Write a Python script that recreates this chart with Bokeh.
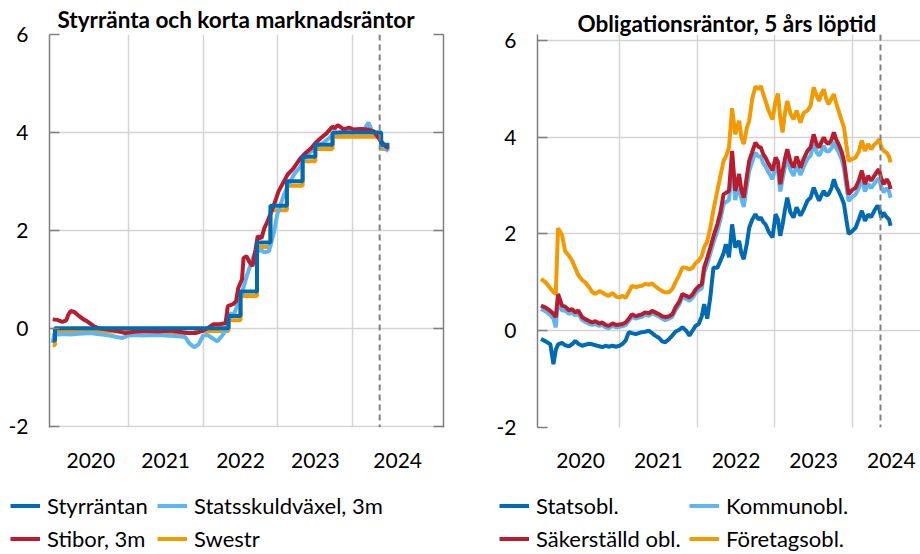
from bokeh.plotting import figure
from bokeh.models import Range1d, FixedTicker, LinearAxis, Span, Legend, LegendItem
from bokeh.layouts import row, column
from bokeh.embed import file_html
from bokeh.resources import INLINE

FONT = "Lato"
C_DBLUE = "#006bb3"
C_LBLUE = "#5db6f0"
C_RED = "#b81c2e"
C_ORANGE = "#f29a00"

# ---------------- Left panel data ----------------
styr_t = [2019.99, 2020.02, 2022.34, 2022.50, 2022.72, 2022.90, 2023.12, 2023.33, 2023.50, 2023.73, 2024.38, 2024.49]
styr_v = [-0.25, 0.00, 0.25, 0.75, 1.75, 2.50, 3.00, 3.50, 3.75, 4.00, 3.75, 3.75]

swestr_t = [2019.99, 2020.02, 2020.50, 2021.00, 2021.50, 2021.90, 2022.34, 2022.50, 2022.72, 2022.90, 2023.12, 2023.33, 2023.50, 2023.73, 2024.38, 2024.49]
swestr_v = [-0.35, -0.08, -0.07, -0.07, -0.10, -0.06, 0.16, 0.66, 1.66, 2.41, 2.91, 3.41, 3.66, 3.91, 3.66, 3.66]

stibor_t = [2019.99, 2020.05, 2020.12, 2020.17, 2020.20, 2020.23, 2020.28, 2020.34, 2020.40, 2020.45,
            2020.54, 2020.60, 2020.70, 2020.85, 2020.96, 2021.10, 2021.25, 2021.40, 2021.55, 2021.70,
            2021.80, 2021.90, 2022.00, 2022.08, 2022.14, 2022.22, 2022.30, 2022.33, 2022.40, 2022.44,
            2022.47, 2022.52, 2022.54, 2022.58, 2022.62, 2022.66, 2022.70, 2022.73, 2022.78, 2022.82,
            2022.86, 2022.93, 2022.97, 2023.01, 2023.08, 2023.13, 2023.20, 2023.30, 2023.37, 2023.44,
            2023.50, 2023.57, 2023.65, 2023.73, 2023.76, 2023.80, 2023.88, 2023.95, 2024.01, 2024.10,
            2024.20, 2024.28, 2024.33, 2024.40, 2024.44, 2024.48]
stibor_v = [0.18, 0.17, 0.13, 0.16, 0.28, 0.35, 0.33, 0.25, 0.18, 0.14,
            0.04, 0.00, -0.02, -0.06, -0.10, -0.07, -0.06, -0.07, -0.05, -0.08,
            -0.10, -0.10, -0.05, 0.02, 0.08, 0.08, 0.10, 0.45, 0.49, 0.55,
            0.82, 1.00, 1.43, 1.47, 1.35, 1.27, 1.60, 1.88, 1.84, 2.05,
            2.18, 2.45, 2.62, 2.80, 3.00, 3.14, 3.25, 3.47, 3.58, 3.67,
            3.78, 3.88, 3.98, 4.12, 4.08, 4.15, 4.06, 4.10, 4.06, 4.07,
            4.06, 4.02, 3.92, 3.78, 3.72, 3.67]

ssvx_t = [2019.99, 2020.01, 2020.08, 2020.15, 2020.22, 2020.30, 2020.40, 2020.50, 2020.58, 2020.65,
          2020.75, 2020.85, 2020.92, 2021.00, 2021.10, 2021.20, 2021.35, 2021.50, 2021.62, 2021.70,
          2021.76, 2021.81, 2021.88, 2021.94, 2022.00, 2022.06, 2022.12, 2022.19, 2022.26, 2022.32,
          2022.36, 2022.41, 2022.50, 2022.59, 2022.68, 2022.76, 2022.82, 2022.88, 2022.95, 2022.99,
          2023.08, 2023.15, 2023.22, 2023.30, 2023.38, 2023.45, 2023.52, 2023.60, 2023.68, 2023.76,
          2023.84, 2023.92, 2024.00, 2024.08, 2024.16, 2024.21, 2024.25, 2024.30, 2024.36, 2024.42,
          2024.48]
ssvx_v = [-0.30, -0.12, -0.13, -0.12, -0.13, -0.12, -0.11, -0.10, -0.12, -0.13,
          -0.15, -0.18, -0.20, -0.15, -0.14, -0.15, -0.14, -0.15, -0.16, -0.17,
          -0.18, -0.30, -0.39, -0.33, -0.15, -0.14, -0.20, -0.27, -0.14, 0.00,
          0.30, 0.28, 0.62, 1.10, 1.50, 1.60, 1.55, 1.57, 1.98, 2.32,
          2.73, 2.95, 3.15, 3.30, 3.52, 3.62, 3.72, 3.78, 3.88, 3.98,
          4.00, 4.02, 4.00, 4.05, 4.08, 4.20, 4.05, 4.00, 3.85, 3.68,
          3.62]

# ---------------- Right panel data ----------------
obl_t = [2019.99, 2020.05, 2020.11, 2020.15, 2020.18, 2020.21, 2020.26, 2020.30, 2020.35, 2020.39,
         2020.43, 2020.47, 2020.52, 2020.56, 2020.61, 2020.65, 2020.69, 2020.74, 2020.78, 2020.82,
         2020.86, 2020.91, 2020.96, 2021.00, 2021.04, 2021.08, 2021.12, 2021.16, 2021.21, 2021.25,
         2021.29, 2021.33, 2021.38, 2021.42, 2021.46, 2021.51, 2021.55, 2021.59, 2021.64, 2021.68,
         2021.72, 2021.77, 2021.81, 2021.86, 2021.90, 2021.94, 2021.98, 2022.02, 2022.06, 2022.09,
         2022.13, 2022.17, 2022.21, 2022.26, 2022.30, 2022.34, 2022.37, 2022.41, 2022.45, 2022.49,
         2022.54, 2022.57, 2022.60, 2022.64, 2022.67, 2022.71, 2022.75, 2022.79, 2022.82, 2022.85,
         2022.88, 2022.92, 2022.97, 2023.01, 2023.04, 2023.07, 2023.10, 2023.13, 2023.16, 2023.20,
         2023.24, 2023.28, 2023.33, 2023.37, 2023.42, 2023.46, 2023.50, 2023.54, 2023.57, 2023.60,
         2023.63, 2023.66, 2023.69, 2023.73, 2023.76, 2023.79, 2023.82, 2023.86, 2023.89, 2023.92,
         2023.95, 2023.99, 2024.04, 2024.08, 2024.12, 2024.16, 2024.20, 2024.24, 2024.28, 2024.32,
         2024.34, 2024.37, 2024.40, 2024.44, 2024.47, 2024.49]

foretag_v = [1.07, 1.00, 0.88, 0.80, 0.76, 2.12, 1.98, 1.65, 1.55, 1.45,
             1.30, 1.15, 1.05, 1.00, 0.90, 0.80, 0.76, 0.82, 0.79, 0.75,
             0.72, 0.78, 0.70, 0.69, 0.72, 0.68, 0.80, 0.93, 0.90, 0.92,
             0.93, 0.97, 0.95, 0.98, 0.92, 0.86, 0.82, 0.79, 0.80, 0.86,
             1.00, 1.15, 1.31, 1.30, 1.27, 1.30, 1.40, 1.45, 1.55, 1.72,
             1.85, 2.13, 2.50, 2.89, 3.20, 3.51, 3.60, 3.79, 4.60, 4.06,
             4.34, 4.00, 3.86, 4.20, 4.34, 4.80, 5.05, 5.00, 5.06, 4.90,
             4.75, 4.55, 4.37, 4.75, 4.90, 4.40, 4.10, 4.50, 4.75, 4.50,
             4.37, 4.55, 4.30, 4.50, 4.55, 4.65, 5.03, 4.85, 4.75, 4.90,
             4.99, 4.80, 4.68, 4.80, 4.89, 4.70, 4.55, 4.35, 4.20, 3.85,
             3.51, 3.55, 3.58, 3.70, 3.93, 3.72, 3.86, 3.75, 3.85, 3.90,
             3.96, 3.80, 3.72, 3.68, 3.60, 3.48]

saker_v = [0.52, 0.48, 0.41, 0.35, 0.28, 0.76, 0.52, 0.50, 0.42, 0.45,
           0.38, 0.42, 0.28, 0.24, 0.20, 0.17, 0.20, 0.15, 0.17, 0.12,
           0.10, 0.15, 0.12, 0.13, 0.14, 0.17, 0.25, 0.34, 0.30, 0.32,
           0.34, 0.38, 0.36, 0.41, 0.38, 0.34, 0.30, 0.28, 0.30, 0.34,
           0.48, 0.60, 0.76, 0.72, 0.69, 0.75, 0.85, 0.92, 0.96, 1.31,
           1.50, 1.72, 1.95, 2.20, 2.45, 2.82, 2.85, 2.89, 3.72, 2.89,
           3.24, 2.90, 2.75, 3.20, 3.51, 3.70, 3.89, 3.80, 3.79, 3.65,
           3.58, 3.45, 3.31, 3.58, 3.50, 3.03, 3.30, 3.55, 3.75, 3.50,
           3.37, 3.60, 3.37, 3.55, 3.72, 3.79, 4.06, 3.85, 3.79, 3.90,
           4.00, 3.90, 3.86, 3.95, 4.10, 3.95, 3.86, 3.70, 3.51, 3.15,
           2.82, 2.90, 2.96, 3.10, 3.31, 3.03, 3.20, 3.10, 3.20, 3.30,
           3.34, 3.15, 3.03, 3.13, 3.05, 2.93]

kommun_v = [0.45, 0.40, 0.33, 0.25, 0.07, 0.62, 0.42, 0.42, 0.35, 0.38,
            0.32, 0.35, 0.22, 0.18, 0.14, 0.12, 0.14, 0.10, 0.12, 0.07,
            0.05, 0.10, 0.07, 0.08, 0.09, 0.12, 0.20, 0.29, 0.25, 0.27,
            0.29, 0.33, 0.31, 0.36, 0.33, 0.29, 0.25, 0.22, 0.25, 0.29,
            0.42, 0.54, 0.70, 0.66, 0.62, 0.68, 0.78, 0.84, 0.88, 1.20,
            1.38, 1.60, 1.82, 2.06, 2.30, 2.62, 2.66, 2.70, 3.45, 2.70,
            3.02, 2.72, 2.56, 3.00, 3.30, 3.50, 3.68, 3.60, 3.60, 3.46,
            3.40, 3.27, 3.13, 3.40, 3.32, 2.88, 3.14, 3.38, 3.56, 3.33,
            3.20, 3.42, 3.22, 3.38, 3.55, 3.62, 3.86, 3.68, 3.62, 3.72,
            3.82, 3.72, 3.70, 3.78, 3.90, 3.78, 3.70, 3.54, 3.36, 3.00,
            2.68, 2.76, 2.82, 2.95, 3.14, 2.88, 3.04, 2.95, 3.04, 3.12,
            3.15, 2.98, 2.86, 2.95, 2.88, 2.75]

stat_v = [-0.17, -0.22, -0.28, -0.69, -0.40, -0.28, -0.25, -0.30, -0.32, -0.28,
          -0.21, -0.27, -0.31, -0.29, -0.27, -0.28, -0.30, -0.32, -0.34, -0.31,
          -0.33, -0.31, -0.33, -0.31, -0.27, -0.20, -0.03, -0.05, -0.07, -0.05,
          -0.03, -0.02, 0.00, -0.05, -0.10, -0.15, -0.22, -0.24, -0.17, -0.10,
          -0.02, 0.02, 0.07, 0.00, -0.10, 0.00, 0.10, 0.14, 0.30, 0.55,
          0.25, 0.70, 1.31, 1.30, 1.45, 1.60, 1.79, 1.52, 2.20, 1.72,
          1.86, 1.60, 1.48, 1.80, 2.13, 2.30, 2.41, 2.30, 2.34, 2.25,
          2.20, 2.05, 1.93, 2.41, 2.30, 1.96, 2.20, 2.50, 2.75, 2.45,
          2.34, 2.55, 2.38, 2.50, 2.69, 2.75, 2.96, 2.80, 2.69, 2.80,
          2.89, 2.80, 2.82, 2.95, 3.13, 2.98, 2.89, 2.75, 2.62, 2.30,
          2.00, 2.05, 2.13, 2.30, 2.48, 2.27, 2.40, 2.35, 2.48, 2.58,
          2.55, 2.34, 2.44, 2.35, 2.30, 2.17]

y_ticks = [-2, 0, 2, 4, 6]
y_labels = ["-2", "0", "2", "4", "6"]
grid_years = [2021, 2022, 2023, 2024]
year_labels = ["2020", "2021", "2022", "2023", "2024"]
left_label_pos = [2020.5, 2021.5, 2022.5, 2023.5, 2024.6]
right_label_pos = [2020.5, 2021.5, 2022.5, 2023.5, 2024.5]
marker_date = 2024.36

AX_COL = "#7f7f7f"
GRID_COL = "#d4d4d4"


def style(p, title, label_pos, title_offset, title_standoff):
    p.outline_line_color = None
    p.background_fill_color = "white"
    p.title.text = title
    p.title.align = "left"
    p.title.offset = title_offset
    p.title.text_font = FONT
    p.title.text_font_size = "22.5px"
    p.title.text_font_style = "bold"
    p.title.text_color = "black"
    p.title.standoff = title_standoff
    xa = p.xaxis[0]
    xa.ticker = FixedTicker(ticks=label_pos)
    xa.major_label_overrides = {pos: lab for pos, lab in zip(label_pos, year_labels)}
    xa.axis_line_color = None
    xa.major_tick_line_color = None
    xa.minor_tick_line_color = None
    xa.major_label_standoff = 19
    xa.major_label_text_font = FONT
    xa.major_label_text_font_size = "21px"
    xa.major_label_text_color = "black"
    ya = p.yaxis[0]
    ya.ticker = FixedTicker(ticks=y_ticks)
    ya.major_label_overrides = {t: s for t, s in zip(y_ticks, y_labels)}
    ya.axis_line_color = AX_COL
    ya.axis_line_width = 1.5
    ya.major_tick_in = 10
    ya.major_tick_out = 0
    ya.major_tick_line_color = AX_COL
    ya.major_tick_line_width = 1.5
    ya.minor_tick_line_color = None
    ya.major_label_standoff = 21
    ya.major_label_text_font = FONT
    ya.major_label_text_font_size = "21px"
    ya.major_label_text_color = "black"
    p.xgrid.ticker = FixedTicker(ticks=grid_years)
    p.ygrid.ticker = FixedTicker(ticks=y_ticks)
    for g in (p.xgrid[0], p.ygrid[0]):
        g.grid_line_color = GRID_COL
        g.grid_line_width = 1.5
    p.add_layout(Span(location=marker_date, dimension="height", line_color="#808080",
                      line_width=2, line_dash="6 4"))


def legend_fig():
    # legend strip: its ranges lie outside the data, so only the legend is seen
    f = figure(width=460, height=70, x_range=Range1d(0, 1), y_range=Range1d(0, 1),
               output_backend="svg", toolbar_location=None,
               min_border_left=0, min_border_right=0, min_border_top=0, min_border_bottom=0)
    f.axis.visible = False
    f.grid.visible = False
    f.outline_line_color = None
    return f


def make_legend(items, x):
    lg = Legend(items=items, location=(x, 2), orientation="vertical")
    lg.label_text_font = FONT
    lg.label_text_font_size = "22px"
    lg.label_text_color = "black"
    lg.glyph_width = 30
    lg.glyph_height = 27
    lg.label_height = 27
    lg.label_standoff = 7
    lg.spacing = 6
    lg.padding = 0
    lg.margin = 0
    lg.border_line_color = None
    lg.background_fill_alpha = 0
    return lg


# ---------------- Left chart ----------------
p1 = figure(width=460, height=484, x_range=Range1d(2019.947, 2025.213), y_range=Range1d(-2.029, 6),
            output_backend="svg", toolbar_location=None,
            min_border_left=49, min_border_right=17, min_border_top=34, min_border_bottom=57)
style(p1, "Styrränta och korta marknadsräntor", left_label_pos, 8, 3)
ra = LinearAxis(ticker=FixedTicker(ticks=y_ticks), axis_line_color=AX_COL, axis_line_width=1.5,
                major_tick_in=10, major_tick_out=0, major_tick_line_color=AX_COL,
                major_tick_line_width=1.5, minor_tick_line_color=None,
                major_label_overrides={t: "" for t in y_ticks}, major_label_standoff=0)
p1.add_layout(ra, "right")

p1.step(swestr_t, swestr_v, mode="after", line_color=C_ORANGE, line_width=4)
p1.line(ssvx_t, ssvx_v, line_color=C_LBLUE, line_width=4)
p1.line(stibor_t, stibor_v, line_color=C_RED, line_width=4)
p1.step(styr_t, styr_v, mode="after", line_color=C_DBLUE, line_width=4)

# ---------------- Right chart ----------------
p2 = figure(width=460, height=484, x_range=Range1d(2019.945, 2024.875), y_range=Range1d(-2, 6.124),
            output_backend="svg", toolbar_location=None,
            min_border_left=77, min_border_right=0, min_border_top=34, min_border_bottom=57)
style(p2, "Obligationsräntor, 5 års löptid", right_label_pos, 40, -4)

p2.line(obl_t, kommun_v, line_color=C_LBLUE, line_width=4)
p2.line(obl_t, saker_v, line_color=C_RED, line_width=4)
p2.line(obl_t, stat_v, line_color=C_DBLUE, line_width=4)
p2.line(obl_t, foretag_v, line_color=C_ORANGE, line_width=4)

# ---------------- Legends (strips under each chart) ----------------
l1 = legend_fig()
k_sty = l1.line(styr_t, styr_v, line_color=C_DBLUE, line_width=4)
k_sti = l1.line(stibor_t, stibor_v, line_color=C_RED, line_width=4)
k_ssv = l1.line(ssvx_t, ssvx_v, line_color=C_LBLUE, line_width=4)
k_swe = l1.line(swestr_t, swestr_v, line_color=C_ORANGE, line_width=4)
l1.add_layout(make_legend([LegendItem(label="Styrräntan", renderers=[k_sty]),
                           LegendItem(label="Stibor, 3m", renderers=[k_sti])], 10))
l1.add_layout(make_legend([LegendItem(label="Statsskuldväxel, 3m", renderers=[k_ssv]),
                           LegendItem(label="Swestr", renderers=[k_swe])], 157))

l2 = legend_fig()
k_sta = l2.line(obl_t, stat_v, line_color=C_DBLUE, line_width=4)
k_sak = l2.line(obl_t, saker_v, line_color=C_RED, line_width=4)
k_kom = l2.line(obl_t, kommun_v, line_color=C_LBLUE, line_width=4)
k_for = l2.line(obl_t, foretag_v, line_color=C_ORANGE, line_width=4)
l2.add_layout(make_legend([LegendItem(label="Statsobl.", renderers=[k_sta]),
                           LegendItem(label="Säkerställd obl.", renderers=[k_sak])], 39))
l2.add_layout(make_legend([LegendItem(label="Kommunobl.", renderers=[k_kom]),
                           LegendItem(label="Företagsobl.", renderers=[k_for])], 229))

layout = column(row(p1, p2), row(l1, l2))
open("out.html", "w").write(file_html(layout, INLINE))
